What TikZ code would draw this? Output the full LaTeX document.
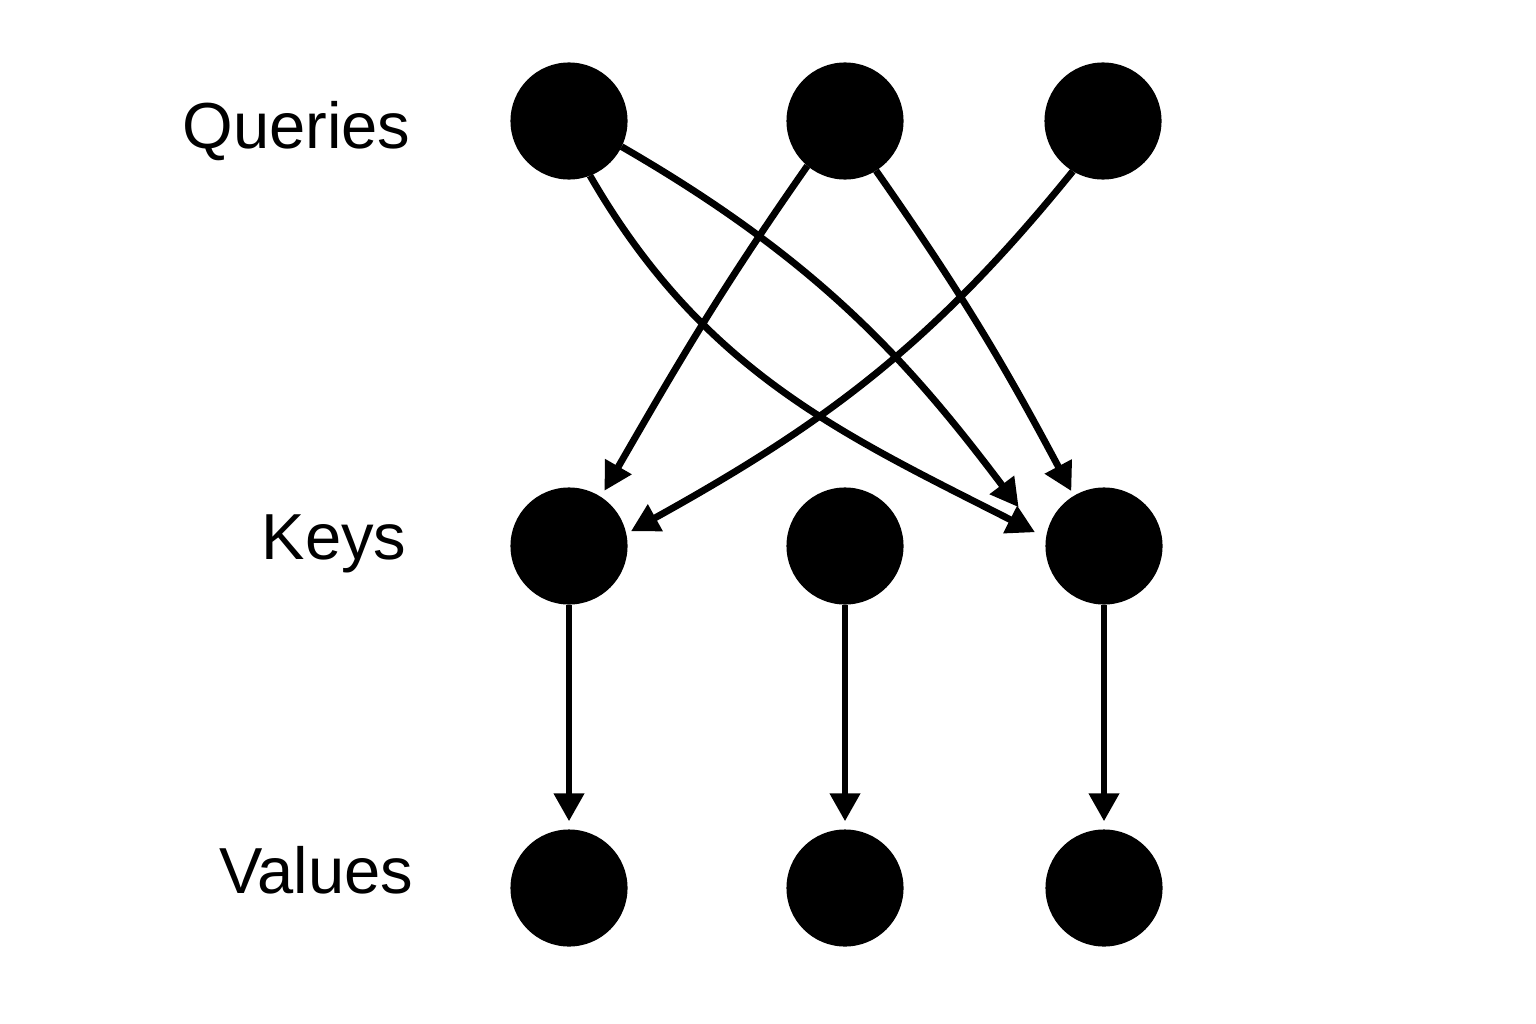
\documentclass[tikz,border=0pt]{standalone}
\usepackage{fontspec}
\setmainfont{Liberation Sans}
\usetikzlibrary{arrows.meta}
\begin{document}
\begin{tikzpicture}[x=0.01cm,y=-0.01cm,
  dot/.style={circle,fill=black,minimum size=1.17cm,inner sep=0pt,outer sep=0pt},
  lbl/.style={anchor=base east,inner sep=0pt,font=\fontsize{18.5pt}{22pt}\selectfont},
  arr/.style={line width=1.95pt,-{Triangle[length=0.28cm,width=0.29cm]}}]
\useasboundingbox (0,0) rectangle (1536,1024);
\node[dot] (q1) at (569,121) {};
\node[dot] (q2) at (845,121) {};
\node[dot] (q3) at (1103,121) {};
\node[dot] (k1) at (569,546) {};
\node[dot] (k2) at (845,546) {};
\node[dot] (k3) at (1104,546) {};
\node[dot] (v1) at (569,888) {};
\node[dot] (v2) at (845,888) {};
\node[dot] (v3) at (1104,888) {};
\node[lbl] (lq) at (411,148) {Queries};
\node[lbl] (lk) at (407,559) {Keys};
\node[lbl] (lv) at (414,893) {Values};
% queries to keys
\draw[arr,shorten >=3.5pt] (q1.-69) to[out=-60,in=153] (k3.172);
\draw[arr,shorten >=12.7pt] (q1.-26) to[out=-30,in=127] (k3.177);
\draw[arr,shorten >=2pt] (q2.-130) to[out=-125,in=60] (k1.57);
\draw[arr,shorten >=1.5pt] (q2.-58) to[out=-55,in=118] (k3.121);
\draw[arr,shorten >=1.5pt] (q3.-121) to[out=-129,in=29] (k1.12);
% keys to values
\draw[arr,shorten >=2.3pt] (k1) -- (v1);
\draw[arr,shorten >=2.3pt] (k2) -- (v2);
\draw[arr,shorten >=2.3pt] (k3) -- (v3);
\end{tikzpicture}
\end{document}
